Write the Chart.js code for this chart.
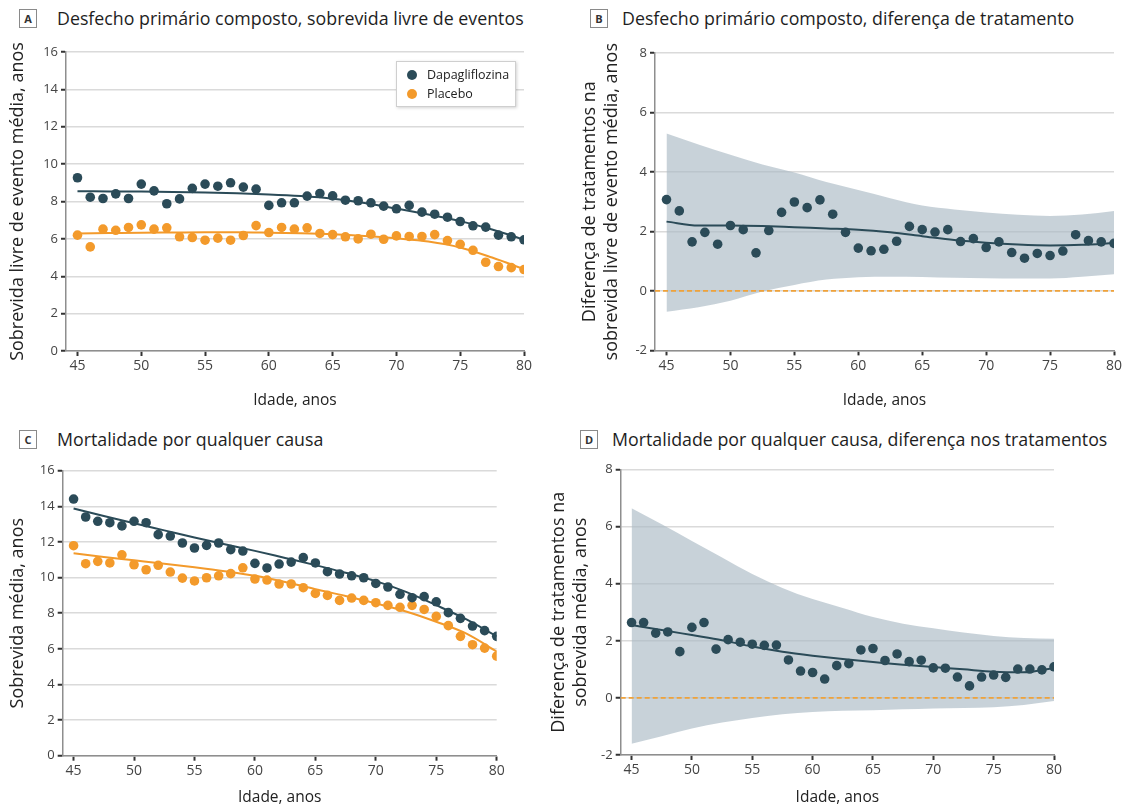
<!DOCTYPE html>
<html lang="pt">
<head>
<meta charset="utf-8">
<script src="https://cdn.jsdelivr.net/npm/chart.js@4.4.1/dist/chart.umd.min.js"></script>
<style>
  html, body { margin: 0; padding: 0; background: #fff; }
  body { width: 1128px; height: 807px; position: relative; overflow: hidden;
         font-family: "Open Sans", sans-serif; color: #222; }
  .head { position: absolute; font-size: 17.8px; line-height: 22px; white-space: nowrap; color: #1e1e1e; }
  .tag { position: absolute; width: 16px; height: 17px; border: 1px solid #8a8a8a;
         font-size: 11px; font-weight: 700; line-height: 17px; text-align: center; color: #333; }
  canvas { position: absolute; }
  .legend { position: absolute; background: #fff; border: 1px solid #cfcfcf;
            box-shadow: 1px 1px 3px rgba(0,0,0,0.18); font-size: 12.5px; color: #222;
            padding: 3px 6px 3px 10px; }
  .legend div { height: 19px; line-height: 19px; white-space: nowrap; }
  .legend span { display: inline-block; width: 10px; height: 10px; border-radius: 50%;
                 margin-right: 10px; vertical-align: -1px; }
</style>
</head>
<body>

<div class="tag" style="left:19px;top:9px;">A</div>
<div class="head" style="left:57px;top:7px;">Desfecho primário composto, sobrevida livre de eventos</div>
<div class="tag" style="left:590px;top:9px;">B</div>
<div class="head" style="left:622px;top:7px;">Desfecho primário composto, diferença de tratamento</div>
<div class="tag" style="left:19px;top:430px;">C</div>
<div class="head" style="left:57px;top:428px;">Mortalidade por qualquer causa</div>
<div class="tag" style="left:580px;top:430px;">D</div>
<div class="head" style="left:612px;top:428px;">Mortalidade por qualquer causa, diferença nos tratamentos</div>

<canvas id="chartA" width="550" height="382" style="left:0;top:30px;"></canvas>
<canvas id="chartB" width="558" height="382" style="left:570px;top:30px;"></canvas>
<canvas id="chartC" width="540" height="357" style="left:0;top:450px;"></canvas>
<canvas id="chartD" width="588" height="357" style="left:540px;top:450px;"></canvas>

<div class="legend" id="legendA" style="left:396px;top:61px;"></div>

<script>
// Age at randomisation (years), one point per year
const ages = [45, 46, 47, 48, 49, 50, 51, 52, 53, 54, 55, 56, 57, 58, 59, 60, 61, 62,
              63, 64, 65, 66, 67, 68, 69, 70, 71, 72, 73, 74, 75, 76, 77, 78, 79, 80];

// Panel A: mean event-free survival (years)
const dapaEventFree = [9.27, 8.23, 8.16, 8.41, 8.16, 8.93, 8.57, 7.88, 8.14, 8.70, 8.93, 8.82,
                       9.00, 8.77, 8.66, 7.79, 7.93, 7.93, 8.29, 8.43, 8.30, 8.07, 8.04, 7.93,
                       7.75, 7.61, 7.79, 7.43, 7.32, 7.16, 6.93, 6.70, 6.63, 6.20, 6.11, 5.95];
const placeboEventFree = [6.20, 5.57, 6.52, 6.46, 6.61, 6.75, 6.52, 6.59, 6.11, 6.07, 5.93, 6.04,
                          5.93, 6.18, 6.71, 6.34, 6.61, 6.52, 6.59, 6.29, 6.23, 6.11, 6.00, 6.25,
                          5.98, 6.16, 6.13, 6.13, 6.23, 5.91, 5.71, 5.39, 4.75, 4.52, 4.46, 4.36];

// Panel B: treatment difference in event-free survival (years)
const diffEventFree = [3.07, 2.69, 1.65, 1.97, 1.57, 2.20, 2.06, 1.28, 2.03, 2.64, 2.99, 2.80,
                       3.06, 2.58, 1.97, 1.44, 1.35, 1.40, 1.67, 2.17, 2.06, 1.98, 2.06, 1.66,
                       1.76, 1.46, 1.65, 1.29, 1.10, 1.26, 1.19, 1.34, 1.89, 1.69, 1.65, 1.60];

// Panel C: mean overall survival (years)
const dapaSurvival = [14.41, 13.40, 13.16, 13.08, 12.90, 13.16, 13.08, 12.41, 12.33, 11.94, 11.66, 11.81,
                      11.94, 11.57, 11.49, 10.80, 10.54, 10.76, 10.87, 11.12, 10.82, 10.33, 10.20, 10.10,
                      9.99, 9.67, 9.47, 9.06, 8.87, 8.93, 8.64, 8.03, 7.71, 7.28, 7.02, 6.70];
const placeboSurvival = [11.79, 10.78, 10.91, 10.82, 11.28, 10.72, 10.44, 10.69, 10.31, 9.97, 9.81, 9.99,
                         10.10, 10.22, 10.55, 9.92, 9.86, 9.64, 9.64, 9.43, 9.11, 9.00, 8.72, 8.85,
                         8.72, 8.59, 8.44, 8.33, 8.44, 8.21, 7.82, 7.30, 6.70, 6.23, 6.04, 5.59];

// Panel D: treatment difference in overall survival (years)
const diffSurvival = [2.64, 2.64, 2.27, 2.31, 1.62, 2.47, 2.64, 1.71, 2.04, 1.95, 1.88, 1.84,
                      1.85, 1.33, 0.94, 0.89, 0.66, 1.13, 1.20, 1.68, 1.73, 1.31, 1.54, 1.27,
                      1.32, 1.05, 1.04, 0.73, 0.42, 0.73, 0.80, 0.72, 1.01, 1.01, 0.98, 1.09];

// Smoothed curves and 95% confidence bands, sampled every 2.5 years
const curveAges = [45, 47.5, 50, 52.5, 55, 57.5, 60, 62.5, 65, 67.5, 70, 72.5, 75, 77.5, 80];
const fitDapaEventFree = [8.55, 8.54, 8.53, 8.51, 8.48, 8.44, 8.38, 8.29, 8.15, 7.92, 7.62, 7.30, 6.95, 6.50, 5.95];
const fitPlaceboEventFree = [6.29, 6.31, 6.33, 6.34, 6.35, 6.35, 6.33, 6.30, 6.25, 6.16, 6.03, 5.86, 5.54, 5.00, 4.38];
const fitDiffEventFree = [2.33, 2.20, 2.20, 2.18, 2.14, 2.10, 2.06, 1.97, 1.84, 1.71, 1.62, 1.56, 1.53, 1.55, 1.61];
const upperDiffEventFree = [5.29, 4.92, 4.58, 4.25, 3.98, 3.66, 3.39, 3.12, 2.87, 2.74, 2.64, 2.56, 2.52, 2.57, 2.69];
const lowerDiffEventFree = [-0.70, -0.55, -0.33, -0.02, 0.20, 0.38, 0.46, 0.48, 0.47, 0.44, 0.43, 0.42, 0.42, 0.48, 0.56];
const fitDapaSurvival = [13.88, 13.46, 13.05, 12.65, 12.25, 11.87, 11.50, 11.10, 10.70, 10.27, 9.80, 9.20, 8.45, 7.65, 6.70];
const fitPlaceboSurvival = [11.36, 11.16, 10.97, 10.78, 10.58, 10.36, 10.10, 9.75, 9.35, 8.97, 8.55, 8.10, 7.52, 6.85, 5.85];
const fitDiffSurvival = [2.55, 2.38, 2.20, 2.02, 1.80, 1.62, 1.48, 1.36, 1.26, 1.16, 1.08, 1.00, 0.92, 0.90, 1.05];
const upperDiffSurvival = [6.64, 6.08, 5.50, 4.92, 4.34, 3.85, 3.46, 3.15, 2.83, 2.60, 2.44, 2.29, 2.17, 2.10, 2.07];
const lowerDiffSurvival = [-1.61, -1.34, -1.07, -0.86, -0.70, -0.57, -0.49, -0.45, -0.43, -0.40, -0.37, -0.35, -0.33, -0.25, -0.11];

// Axis ticks
const ageTicks = [45, 50, 55, 60, 65, 70, 75, 80];
const seriesNames = ['Dapagliflozina', 'Placebo'];

const DAPA = '#2b4b58';
const PLACEBO = '#f39a2b';
const BAND = 'rgba(172, 187, 198, 0.66)';
const FONT = '"Open Sans", sans-serif';

const pairs = (xs, ys) => xs.map((x, i) => ({ x: x, y: ys[i] }));

function points(label, ys, color) {
  return { label: label, data: pairs(ages, ys), showLine: false, order: 0,
           pointRadius: 4.8, pointHoverRadius: 4.8, pointBorderWidth: 0,
           pointBackgroundColor: color, borderColor: color, backgroundColor: color };
}
function curve(ys, color) {
  return { data: pairs(curveAges, ys), borderColor: color, borderWidth: 2, pointRadius: 0,
           cubicInterpolationMode: 'monotone', fill: false, order: 1 };
}
function zeroLine() {
  return { data: [{ x: 44.1, y: 0 }, { x: 80, y: 0 }], borderColor: '#f0a23a', borderWidth: 1.6,
           borderDash: [5, 3], pointRadius: 0, fill: false, order: 2 };
}
function band(lower, upper) {
  return [
    { data: pairs(curveAges, lower), borderWidth: 0, pointRadius: 0, borderColor: 'rgba(0,0,0,0)',
      cubicInterpolationMode: 'monotone', fill: false, order: 4 },
    { data: pairs(curveAges, upper), borderWidth: 0, pointRadius: 0, borderColor: 'rgba(0,0,0,0)',
      cubicInterpolationMode: 'monotone', fill: 0, backgroundColor: BAND, order: 3 }
  ];
}

// Build one panel. The plot frame is given in canvas pixels so the four
// panels line up: yAxisW = width left of the plot, xAxisH = height below it.
function panel(id, frame, yMin, yMax, yTitle, yTitlePad, datasets) {
  return new Chart(document.getElementById(id), {
    type: 'line',
    data: { datasets: datasets },
    options: {
      responsive: false,
      animation: false,
      devicePixelRatio: 1,
      layout: { padding: { left: 0, top: frame.top, right: frame.right, bottom: 0 } },
      plugins: { legend: { display: false }, tooltip: { enabled: false } },
      scales: {
        x: {
          type: 'linear', min: 44.1, max: 80,
          afterBuildTicks: s => { s.ticks = ageTicks.map(v => ({ value: v })); },
          afterFit: s => { s.height = frame.xAxisH; },
          border: { color: '#8e8e8e', width: 1.5 },
          grid: { drawOnChartArea: false, drawTicks: true, tickLength: 5, tickWidth: 2, tickColor: '#333' },
          ticks: { font: { family: FONT, size: 14 }, color: '#444', padding: 2, maxRotation: 0 },
          title: { display: true, text: 'Idade, anos', font: { family: FONT, size: 15.5 }, color: '#222',
                   padding: { top: 0, bottom: frame.xTitleBottom } }
        },
        y: {
          min: yMin, max: yMax,
          afterFit: s => { s.width = frame.yAxisW; },
          border: { color: '#8e8e8e', width: 1.5 },
          grid: { color: '#dadada', lineWidth: 1.5, tickLength: 5, tickWidth: 2, tickColor: '#333' },
          ticks: { stepSize: 2, font: { family: FONT, size: 13 }, color: '#444', padding: 3 },
          title: { display: true, text: yTitle, font: { family: FONT, size: 18, lineHeight: 1.22 }, color: '#222',
                   padding: { top: yTitlePad, bottom: 0 } }
        }
      }
    }
  });
}

panel('chartA', { top: 22, right: 26, yAxisW: 66, xAxisH: 61, xTitleBottom: 2 }, 0, 16,
      'Sobrevida livre de evento média, anos', 7, [
  points(seriesNames[0], dapaEventFree, DAPA),
  points(seriesNames[1], placeboEventFree, PLACEBO),
  curve(fitDapaEventFree, DAPA),
  curve(fitPlaceboEventFree, PLACEBO)
]);

panel('chartB', { top: 23, right: 14, yAxisW: 85, xAxisH: 61.6, xTitleBottom: 2 }, -2, 8,
      ['Diferença de tratamentos na', 'sobrevida livre de evento média, anos'], 9, [
  ...band(lowerDiffEventFree, upperDiffEventFree),
  zeroLine(),
  curve(fitDiffEventFree, DAPA),
  points('Diferença', diffEventFree, DAPA)
]);

panel('chartC', { top: 20.7, right: 43.3, yAxisW: 62.7, xAxisH: 51.3, xTitleBottom: 0 }, 0, 16,
      'Sobrevida média, anos', 7, [
  points(seriesNames[0], dapaSurvival, DAPA),
  points(seriesNames[1], placeboSurvival, PLACEBO),
  curve(fitDapaSurvival, DAPA),
  curve(fitPlaceboSurvival, PLACEBO)
]);

panel('chartD', { top: 19.5, right: 74, yAxisW: 80.7, xAxisH: 52, xTitleBottom: 0 }, -2, 8,
      ['Diferença de tratamentos na', 'sobrevida média, anos'], 8, [
  ...band(lowerDiffSurvival, upperDiffSurvival),
  zeroLine(),
  curve(fitDiffSurvival, DAPA),
  points('Diferença', diffSurvival, DAPA)
]);

// Legend for panel A
const legendA = document.getElementById('legendA');
[[seriesNames[0], DAPA], [seriesNames[1], PLACEBO]].forEach(([name, color]) => {
  const row = document.createElement('div');
  const dot = document.createElement('span');
  dot.style.background = color;
  row.appendChild(dot);
  row.appendChild(document.createTextNode(name));
  legendA.appendChild(row);
});
</script>
</body>
</html>
